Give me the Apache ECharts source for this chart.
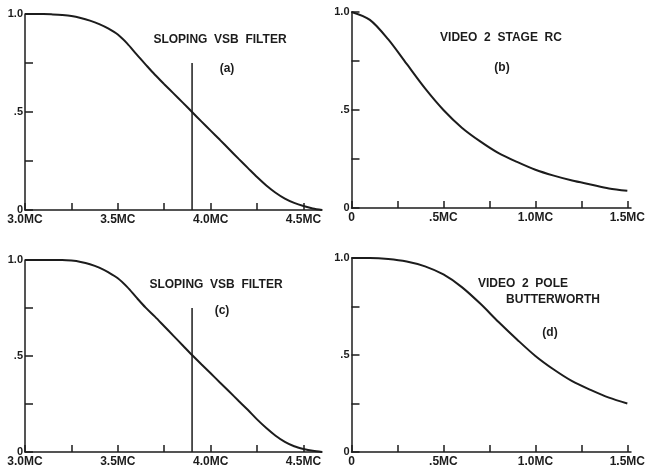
<!DOCTYPE html>
<html style="height: 100%">
<head>
<meta charset="utf-8">
<script src="https://cdn.jsdelivr.net/npm/echarts@6/dist/echarts.min.js"></script>
</head>
<body style="height: 100%; margin: 0; background: #fff">
<div id="container" style="width: 648px; height: 472px"></div>
<script type="text/javascript">
// (a) and (c): sloping VSB filter, 3.0 - 4.6 MC, read every .05 MC
var vsbFreq = [3.0, 3.05, 3.1, 3.15, 3.2, 3.25, 3.3, 3.35, 3.4, 3.45, 3.5, 3.55, 3.6, 3.65, 3.7, 3.75, 3.8,
	3.85, 3.9, 3.95, 4.0, 4.05, 4.1, 4.15, 4.2, 4.25, 4.3, 4.35, 4.4, 4.45, 4.5, 4.55, 4.6];
var vsbRespA = [1.0, 1.0, 1.0, 0.998, 0.995, 0.99, 0.98, 0.966, 0.948, 0.925, 0.895, 0.85, 0.795, 0.742, 0.69, 0.642, 0.595,
	0.548, 0.5, 0.452, 0.405, 0.358, 0.31, 0.262, 0.215, 0.168, 0.125, 0.088, 0.058, 0.036, 0.02, 0.008, 0.0];
var vsbRespC = [1.0, 1.0, 1.0, 1.0, 1.0, 0.997, 0.99, 0.978, 0.96, 0.935, 0.905, 0.86, 0.805, 0.752, 0.705, 0.655, 0.605,
	0.555, 0.505, 0.457, 0.41, 0.362, 0.315, 0.267, 0.22, 0.17, 0.125, 0.085, 0.053, 0.03, 0.016, 0.006, 0.0];
var markerFreq = 3.9;
var markerTop = 0.75;

// (b): video 2 stage RC
var rcFreq = [0, 0.1, 0.2, 0.3, 0.4, 0.5, 0.6, 0.7, 0.8, 0.9, 1.0, 1.1, 1.2, 1.3, 1.4, 1.5];
var rcResp = [1.0, 0.96, 0.86, 0.735, 0.61, 0.5, 0.41, 0.34, 0.28, 0.235, 0.195, 0.165, 0.14, 0.12, 0.1, 0.088];

// (d): video 2 pole butterworth
var bwFreq = [0, 0.1, 0.2, 0.3, 0.4, 0.5, 0.6, 0.7, 0.8, 0.9, 1.0, 1.1, 1.2, 1.3, 1.4, 1.5];
var bwResp = [1.0, 1.0, 0.995, 0.982, 0.957, 0.915, 0.85, 0.765, 0.67, 0.58, 0.495, 0.425, 0.365, 0.32, 0.28, 0.25];

// tick positions and labels
var vsbTicks = [3.0, 3.25, 3.5, 3.75, 4.0, 4.25, 4.5];
var vsbLabelVals = [3.0, 3.5, 4.0, 4.5];
var vsbLabels = ['3.0MC', '3.5MC', '4.0MC', '4.5MC'];
var vidTicks = [0, 0.25, 0.5, 0.75, 1.0, 1.25, 1.5];
var vidLabelVals = [0, 0.5, 1.0, 1.5];
var vidLabels = ['0', '.5MC', '1.0MC', '1.5MC'];
var yTicks = [0, 0.25, 0.5, 0.75, 1.0];
var yLabelVals = [0, 0.5, 1.0];
var yLabels = ['0', '.5', '1.0'];

var ink = '#1c1c1c';
var font = 'Liberation Sans';

function pair(xs, ys) {
	var out = [];
	for (var i = 0; i < xs.length; i++) out.push([xs[i], ys[i]]);
	return out;
}

function lookup(vals, labels) {
	return function (v) {
		for (var i = 0; i < vals.length; i++) {
			if (Math.abs(vals[i] - v) < 1e-6) return labels[i];
		}
		return '';
	};
}

function xAxis(idx, min, max, ticks, labelVals, labels) {
	return {
		type: 'value', gridIndex: idx, min: min, max: max,
		axisLine: { show: true, onZero: false, lineStyle: { color: ink, width: 1.5 } },
		axisTick: { show: true, inside: true, length: 7, customValues: ticks, lineStyle: { color: ink, width: 1.5 } },
		axisLabel: { customValues: labelVals, formatter: lookup(labelVals, labels), margin: 4,
			color: ink, fontSize: 12, fontWeight: 'bold', fontFamily: font },
		splitLine: { show: false }
	};
}

function yAxis(idx) {
	return {
		type: 'value', gridIndex: idx, min: 0, max: 1,
		axisLine: { show: true, lineStyle: { color: ink, width: 1.5 } },
		axisTick: { show: true, inside: true, length: 8, customValues: yTicks, lineStyle: { color: ink, width: 1.5 } },
		axisLabel: { customValues: yLabelVals, formatter: lookup(yLabelVals, yLabels), margin: 2,
			color: ink, fontSize: 11, fontWeight: 'bold', fontFamily: font },
		splitLine: { show: false }
	};
}

function curve(idx, data) {
	return {
		type: 'line', xAxisIndex: idx, yAxisIndex: idx, data: data,
		smooth: 0.3, showSymbol: false, silent: true,
		lineStyle: { color: ink, width: 2 }
	};
}

function marker(idx) {
	return {
		type: 'line', xAxisIndex: idx, yAxisIndex: idx,
		data: [[markerFreq, 0], [markerFreq, markerTop]],
		showSymbol: false, silent: true,
		lineStyle: { color: ink, width: 1.5 }
	};
}

function label(text, x, y) {
	return {
		type: 'text', x: x, y: y, silent: true,
		style: { text: text, fill: ink, font: 'bold 12px ' + font, textAlign: 'center', textVerticalAlign: 'middle' }
	};
}

var myChart = echarts.init(document.getElementById('container'));
var option = {
	backgroundColor: '#fff',
	animation: false,
	grid: [
		{ left: 25, top: 14, width: 297, height: 196 },
		{ left: 351.5, top: 12, width: 283, height: 196 },
		{ left: 25, top: 260, width: 297, height: 192 },
		{ left: 351.5, top: 258, width: 283, height: 194 }
	],
	xAxis: [
		xAxis(0, 3.0, 4.6, vsbTicks, vsbLabelVals, vsbLabels),
		xAxis(1, 0, 1.52, vidTicks, vidLabelVals, vidLabels),
		xAxis(2, 3.0, 4.6, vsbTicks, vsbLabelVals, vsbLabels),
		xAxis(3, 0, 1.52, vidTicks, vidLabelVals, vidLabels)
	],
	yAxis: [yAxis(0), yAxis(1), yAxis(2), yAxis(3)],
	series: [
		curve(0, pair(vsbFreq, vsbRespA)),
		marker(0),
		curve(1, pair(rcFreq, rcResp)),
		curve(2, pair(vsbFreq, vsbRespC)),
		marker(2),
		curve(3, pair(bwFreq, bwResp))
	],
	graphic: [
		label('SLOPING  VSB  FILTER', 220, 40),
		label('(a)', 227, 69),
		label('VIDEO  2  STAGE  RC', 501, 38),
		label('(b)', 502, 68),
		label('SLOPING  VSB  FILTER', 216, 285),
		label('(c)', 222, 311),
		label('VIDEO  2  POLE', 523, 284),
		label('BUTTERWORTH', 553, 300),
		label('(d)', 550, 333)
	]
};
myChart.setOption(option);
</script>
</body>
</html>
